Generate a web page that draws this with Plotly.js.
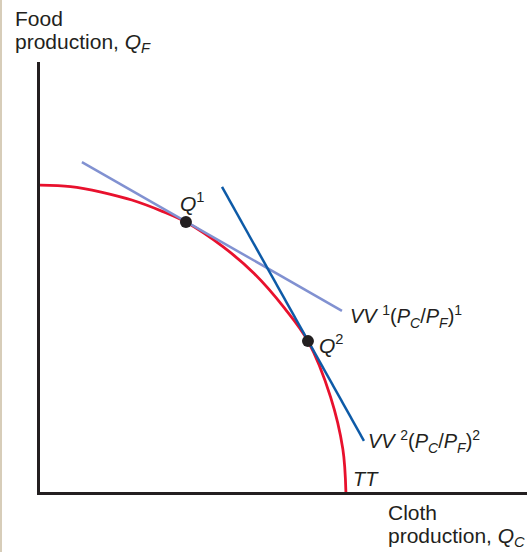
<!DOCTYPE html>
<html>
<head>
<meta charset="utf-8">
<script src="https://cdn.plot.ly/plotly-3.0.1.min.js"></script>
<style>html,body{margin:0;padding:0;background:#fff;}#chart{width:531px;height:552px;}</style>
</head>
<body>
<div id="chart"></div>
<script>
// Transformation curve TT
var ttX = [0, 1, 2, 3, 4, 4.77, 6, 7, 8, 8.76, 9.5, 9.9, 10.0];
var ttY = [10.03, 9.98, 9.8, 9.54, 9.17, 8.82, 8.0, 7.14, 6.0, 4.93, 3.1, 1.4, 0];
// Isovalue line VV1
var vv1X = [1.37, 9.87];
var vv1Y = [10.78, 5.92];
// Isovalue line VV2
var vv2X = [5.95, 10.59];
var vv2Y = [9.97, 1.67];
// Production points Q1, Q2
var qX = [4.77, 8.76];
var qY = [8.82, 4.93];

var F = 'Liberation Sans, Arial, Helvetica, sans-serif';
var data = [
  {x: ttX, y: ttY, mode: 'lines', line: {color: '#e8112d', width: 2.8, shape: 'spline', smoothing: 1}, hoverinfo: 'skip'},
  {x: vv1X, y: vv1Y, mode: 'lines', line: {color: '#8191d1', width: 2.5}, hoverinfo: 'skip'},
  {x: vv2X, y: vv2Y, mode: 'lines', line: {color: '#0d5aa7', width: 2.5}, hoverinfo: 'skip'},
  {x: qX, y: qY, mode: 'markers', marker: {color: '#231f20', size: 12}, hoverinfo: 'skip'}
];

function ann(text, x, y, xa, ya, xref, yref, size) {
  return {text: text, x: x, y: y, xanchor: xa, yanchor: ya, xref: xref || 'x', yref: yref || 'y',
    showarrow: false, align: 'left', font: {family: F, size: size || 20, color: '#231f20'}};
}
function px(p) { return (p - 40) / 487; }
function py(p) { return (492 - p) / 430; }

var layout = {
  width: 531, height: 552,
  margin: {l: 40, r: 4, t: 62, b: 60},
  paper_bgcolor: '#ffffff', plot_bgcolor: '#ffffff',
  showlegend: false,
  xaxis: {range: [0, 15.92], showline: true, linecolor: '#231f20', linewidth: 3, showgrid: false, zeroline: false, showticklabels: false, ticks: '', fixedrange: true},
  yaxis: {range: [0, 14.05], showline: true, linecolor: '#231f20', linewidth: 3, showgrid: false, zeroline: false, showticklabels: false, ticks: '', fixedrange: true},
  shapes: [{type: 'rect', xref: 'paper', yref: 'paper', x0: px(0), x1: px(2), y0: py(552), y1: py(0), fillcolor: '#d7cdb9', line: {width: 0}}],
  annotations: [
    ann('Food', px(13), py(19), 'left', 'middle', 'paper', 'paper', 21),
    ann('production, <i>Q</i><sub><i>F</i></sub>', px(13), py(43), 'left', 'middle', 'paper', 'paper', 21),
    ann('Cloth', px(386), py(512), 'left', 'middle', 'paper', 'paper', 21),
    ann('production, <i>Q</i><sub><i>C</i></sub>', px(386), py(537), 'left', 'middle', 'paper', 'paper', 21),
    ann('<i>Q</i><sup>1</sup>', 4.52, 9.0, 'left', 'bottom', 'x', 'y', 21),
    ann('<i>Q</i><sup>2</sup>', 9.05, 4.85, 'left', 'middle', 'x', 'y', 21),
    ann('<i>VV</i> <sup>1</sup>(<i>P</i><sub><i>C</i></sub>/<i>P</i><sub><i>F</i></sub>)<sup>1</sup>', 10.07, 5.75, 'left', 'middle'),
    ann('<i>VV</i> <sup>2</sup>(<i>P</i><sub><i>C</i></sub>/<i>P</i><sub><i>F</i></sub>)<sup>2</sup>', 10.67, 1.65, 'left', 'middle'),
    ann('<i>TT</i>', 10.17, 0.0, 'left', 'bottom')
  ]
};
Plotly.newPlot('chart', data, layout, {staticPlot: true, displayModeBar: false});
</script>
</body>
</html>
